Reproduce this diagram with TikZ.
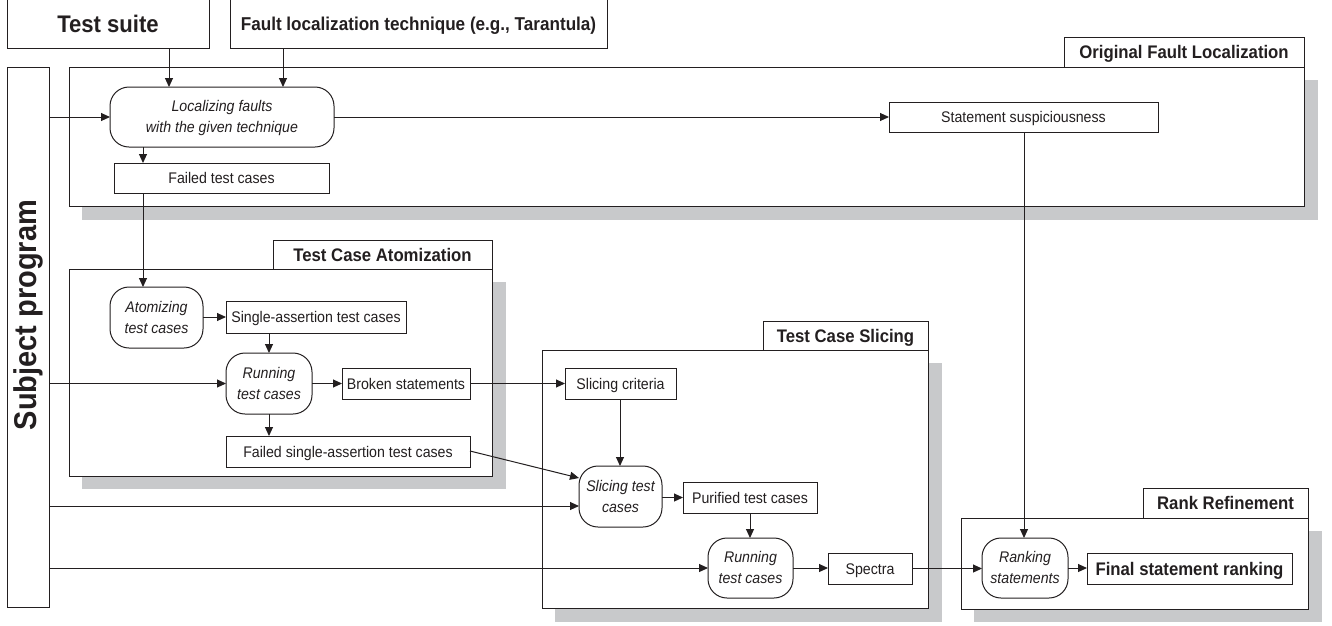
\documentclass[tikz,border=0pt]{standalone}
\usepackage{fontspec}
\setmainfont[FakeStretch=0.92]{Liberation Sans}
\usetikzlibrary{arrows.meta}
\definecolor{ink}{HTML}{231F20}
\definecolor{shade}{HTML}{C8C9CB}
\tikzset{
  x=1pt,y=-1pt,
  base/.style={draw=ink,line width=1pt,fill=white,text=ink,inner sep=0pt,outer sep=0pt,align=center,font=\fontsize{15.4}{21}\selectfont,
    execute at begin node={\rule{0pt}{0.98em}},execute at end node={\rule[-0.22em]{0pt}{0.22em}}},
  databox/.style={base},
  procbox/.style={base,rounded corners=19pt,font=\fontsize{15.4}{21}\selectfont\itshape},
  tabbox/.style={base,font=\fontsize{18.2}{20}\selectfont\bfseries},
  framebox/.style={base},
  shadowbox/.style={fill=shade,draw=none,inner sep=0pt,outer sep=0pt},
  flow/.style={draw=ink,line width=1pt,-{Triangle[length=9pt,width=8pt]}},
}
\newcommand{\bx}[7]{%
  \pgfmathsetmacro{\cxx}{(#3+#5)/2}\pgfmathsetmacro{\cyy}{(#4+#6)/2}%
  \pgfmathsetmacro{\www}{#5-#3}\pgfmathsetmacro{\hhh}{#6-#4}%
  \node[#1,minimum width=\www pt,minimum height=\hhh pt] (#2) at (\cxx,\cyy) {#7};}
\newcommand{\lead}{\rule{0pt}{0.93em}}
\begin{document}
\begin{tikzpicture}
\useasboundingbox (0,0) rectangle (1332,625);
% shadows
\bx{shadowbox}{s1}{82}{80}{1318}{220}{}
\bx{shadowbox}{s2}{82}{282}{506}{489}{}
\bx{shadowbox}{s3}{555}{363}{942}{622}{}
\bx{shadowbox}{s4}{974}{531}{1322}{622}{}
% frames
\bx{framebox}{ofl}{69}{67}{1304}{206}{}
\bx{framebox}{tca}{69}{269}{492}{476}{}
\bx{framebox}{tcs}{542}{350}{928}{608}{}
\bx{framebox}{rr}{961}{518}{1308}{609}{}
% tabs
\bx{tabbox}{ofltab}{1064}{37}{1304}{67}{Original Fault Localization}
\bx{tabbox}{tcatab}{273}{240}{492}{269}{Test Case Atomization}
\bx{tabbox}{tcstab}{763}{321}{928}{350}{Test Case Slicing}
\bx{tabbox}{rrtab}{1143}{488}{1308}{518}{Rank Refinement}
% inputs
\bx{tabbox,font=\fontsize{24}{28}\selectfont\bfseries}{suite}{7}{-1}{209}{48}{Test suite}
\bx{tabbox,font=\fontsize{18.6}{20}\selectfont\bfseries}{tech}{230}{-1}{607}{48}{Fault localization technique (e.g., Tarantula)}
\bx{tabbox}{subject}{7}{67}{49}{607}{}
\node[font=\fontsize{31.5}{34}\selectfont\bfseries,text=ink,rotate=90,inner sep=0pt] (subjecttext) at (28,315) {Subject program};
% original fault localization
\bx{procbox}{local}{110}{87}{334}{147}{\lead Localizing faults\\with the given technique}
\bx{databox}{failed}{114}{163}{329}{193}{Failed test cases}
\bx{databox}{susp}{889}{102}{1158}{132}{Statement suspiciousness}
% atomization
\bx{procbox}{atom}{110}{287}{203}{348}{\lead Atomizing\\test cases}
\bx{databox}{single}{226}{301}{406}{333}{Single-assertion test cases}
\bx{procbox}{run1}{226}{353}{312}{414}{\lead Running\\test cases}
\bx{databox}{broken}{342}{368}{470}{399}{Broken statements}
\bx{databox}{fsingle}{226}{436}{470}{467}{Failed single-assertion test cases}
% slicing
\bx{databox}{crit}{565}{368}{676}{399}{Slicing criteria}
\bx{procbox}{slice}{579}{466}{662}{527}{\lead Slicing test\\cases}
\bx{databox}{pure}{683}{482}{817}{513}{Purified test cases}
\bx{procbox}{run2}{708}{538}{793}{598}{\lead Running\\test cases}
\bx{databox}{spectra}{828}{553}{912}{584}{Spectra}
% rank
\bx{procbox}{rank}{982}{538}{1068}{598}{\lead Ranking\\statements}
\bx{tabbox}{final}{1087}{553}{1292}{584}{Final statement ranking}
% helper anchors for offset connectors
\coordinate (a1) at (169,87);
\coordinate (a2) at (283,87);
\coordinate (a3) at (143,147);
\coordinate (a4) at (143,163);
\coordinate (a5) at (143,193);
\coordinate (a6) at (143,287);
\coordinate (a7) at (579,478);
\coordinate (a8) at (470,451);
\coordinate (a9) at (269,333);
\coordinate (a10) at (269,353);
\coordinate (a11) at (269,414);
\coordinate (a12) at (269,436);
\coordinate (a13) at (620,399);
\coordinate (a14) at (620,466);
\coordinate (a15) at (750,513);
\coordinate (a16) at (750,538);
\coordinate (a17) at (1024,132);
\coordinate (a18) at (1024,538);
% connectors
\draw[flow] (suite.south -| a1) -- (a1);
\draw[flow] (tech.south -| a2) -- (a2);
\draw[flow] (subject.east |- local.west) -- (local.west);
\draw[flow] (local.east) -- (local.east -| susp.west);
\draw[flow] (a3) -- (a4);
\draw[flow] (a5) -- (a6);
\draw[flow] (atom.east |- single.west) -- (single.west);
\draw[flow] (a9) -- (a10);
\draw[flow] (subject.east |- run1.west) -- (run1.west);
\draw[flow] (run1.east) -- (run1.east -| broken.west);
\draw[flow] (a11) -- (a12);
\draw[flow] (broken.east) -- (broken.east -| crit.west);
\draw[flow] (a8) -- (a7);
\draw[flow] (a13) -- (a14);
\draw[flow] (subject.east |- 49,506) -- (slice.west |- 49,506);
\draw[flow] (slice.east |- pure.west) -- (pure.west);
\draw[flow] (a15) -- (a16);
\draw[flow] (subject.east |- run2.west) -- (run2.west);
\draw[flow] (run2.east) -- (run2.east -| spectra.west);
\draw[flow] (spectra.east) -- (spectra.east -| rank.west);
\draw[flow] (a17) -- (a18);
\draw[flow] (rank.east) -- (rank.east -| final.west);
\end{tikzpicture}
\end{document}
